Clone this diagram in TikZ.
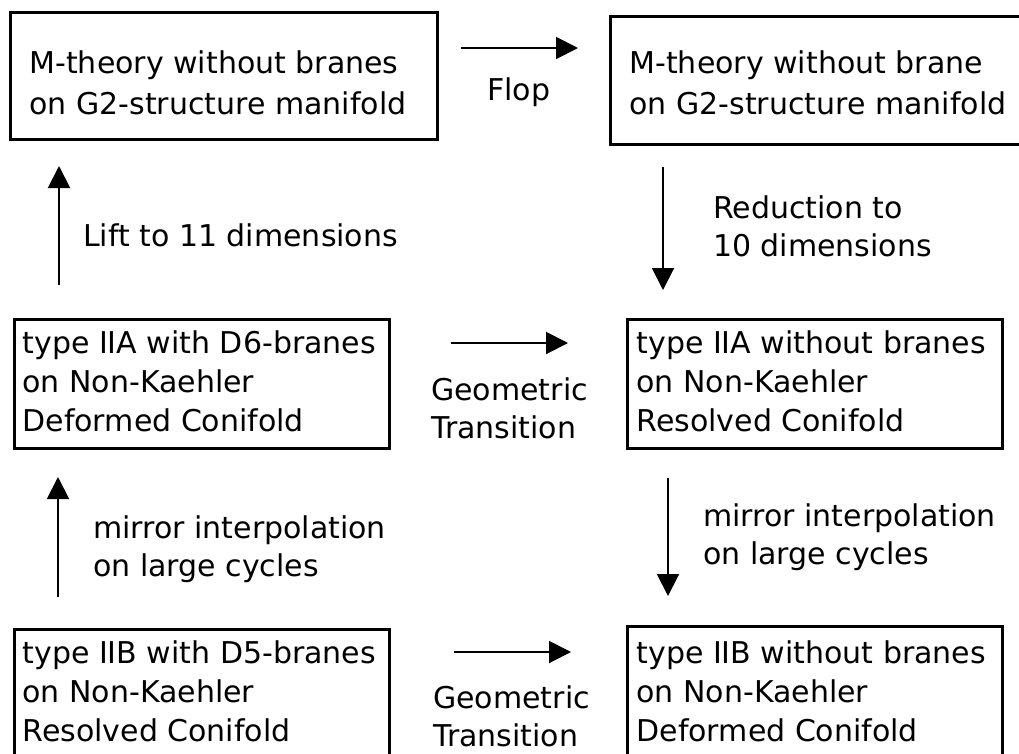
\documentclass[tikz,border=0pt]{standalone}
\usepackage{fontspec}
\setmainfont{DejaVu Sans}
\usetikzlibrary{arrows.meta}
\newcommand{\boxtxt}[5]{\parbox[c][#1][t]{#2}{\parindent=0pt\leftskip=#4\relax\vspace*{#3}\strut #5}}
\newcommand{\lbl}[1]{\begin{tabular}[t]{@{}l@{}}#1\end{tabular}}
\begin{document}
\begin{tikzpicture}[x=1pt,y=-1pt,
  every node/.style={font=\fontsize{30}{39}\selectfont},
  statebox/.style={draw, line width=3pt, anchor=north west, inner sep=0pt},
  lab/.style={anchor=base west, inner sep=0pt, font=\fontsize{30}{38}\selectfont},
  arr/.style={line width=2pt, -{Triangle[length=22pt,width=22pt]}}]
\useasboundingbox[fill=white] (0,0) rectangle (1019,753);

% boxes
\node[statebox, font=\fontsize{30}{41}\selectfont] (A) at (9,11) {\boxtxt{127pt}{427pt}{32pt}{19pt}{M-theory without branes\\on G2-structure manifold}};
\node[statebox, font=\fontsize{30}{41}\selectfont] (B) at (609,15) {\boxtxt{128pt}{420pt}{28pt}{19pt}{M-theory without brane\\on G2-structure manifold}};
\node[statebox] (C) at (13,318) {\boxtxt{129pt}{375pt}{6.7pt}{8pt}{type IIA with D6-branes\\on Non-Kaehler\\Deformed Conifold}};
\node[statebox] (D) at (626,318) {\boxtxt{129pt}{375pt}{6.7pt}{9pt}{type IIA without branes\\on Non-Kaehler\\Resolved Conifold}};
\node[statebox] (E) at (13,628) {\boxtxt{140pt}{375pt}{6.7pt}{8pt}{type IIB with D5-branes\\on Non-Kaehler\\Resolved Conifold}};
\node[statebox] (F) at (626,625) {\boxtxt{140pt}{375pt}{9.7pt}{9pt}{type IIB without branes\\on Non-Kaehler\\Deformed Conifold}};

% arrow end points
\coordinate (flopS) at (461,48);
\coordinate (flopE) at (578,48);
\coordinate (redS) at (663,167);
\coordinate (redE) at (663,290);
\coordinate (liftS) at (59,285);
\coordinate (liftE) at (59,166);
\coordinate (gtaS) at (451,343);
\coordinate (gtaE) at (568,343);
\coordinate (mlS) at (58,597);
\coordinate (mlE) at (58,477);
\coordinate (mrS) at (668,478);
\coordinate (mrE) at (668,596);
\coordinate (gtbS) at (454,652);
\coordinate (gtbE) at (571,652);

\draw[arr] (flopS) -- (flopE);
\draw[arr] (redS) -- (redE);
\draw[arr] (liftS) -- (liftE);
\draw[arr] (gtaS) -- (gtaE);
\draw[arr] (mlS) -- (mlE);
\draw[arr] (mrS) -- (mrE);
\draw[arr] (gtbS) -- (gtbE);

% labels
\node[lab] (flop) at (487,100) {Flop};
\node[lab] (lift) at (83,246) {Lift to 11 dimensions};
\node[lab] (red) at (713,218) {\lbl{Reduction to\\10 dimensions}};
\node[lab] (gta) at (431,400) {\lbl{Geometric\\Transition}};
\node[lab] (mirl) at (93,538) {\lbl{mirror interpolation\\on large cycles}};
\node[lab] (mirr) at (703,526) {\lbl{mirror interpolation\\on large cycles}};
\node[lab] (gtb) at (433,708) {\lbl{Geometric\\Transition}};
\end{tikzpicture}
\end{document}
